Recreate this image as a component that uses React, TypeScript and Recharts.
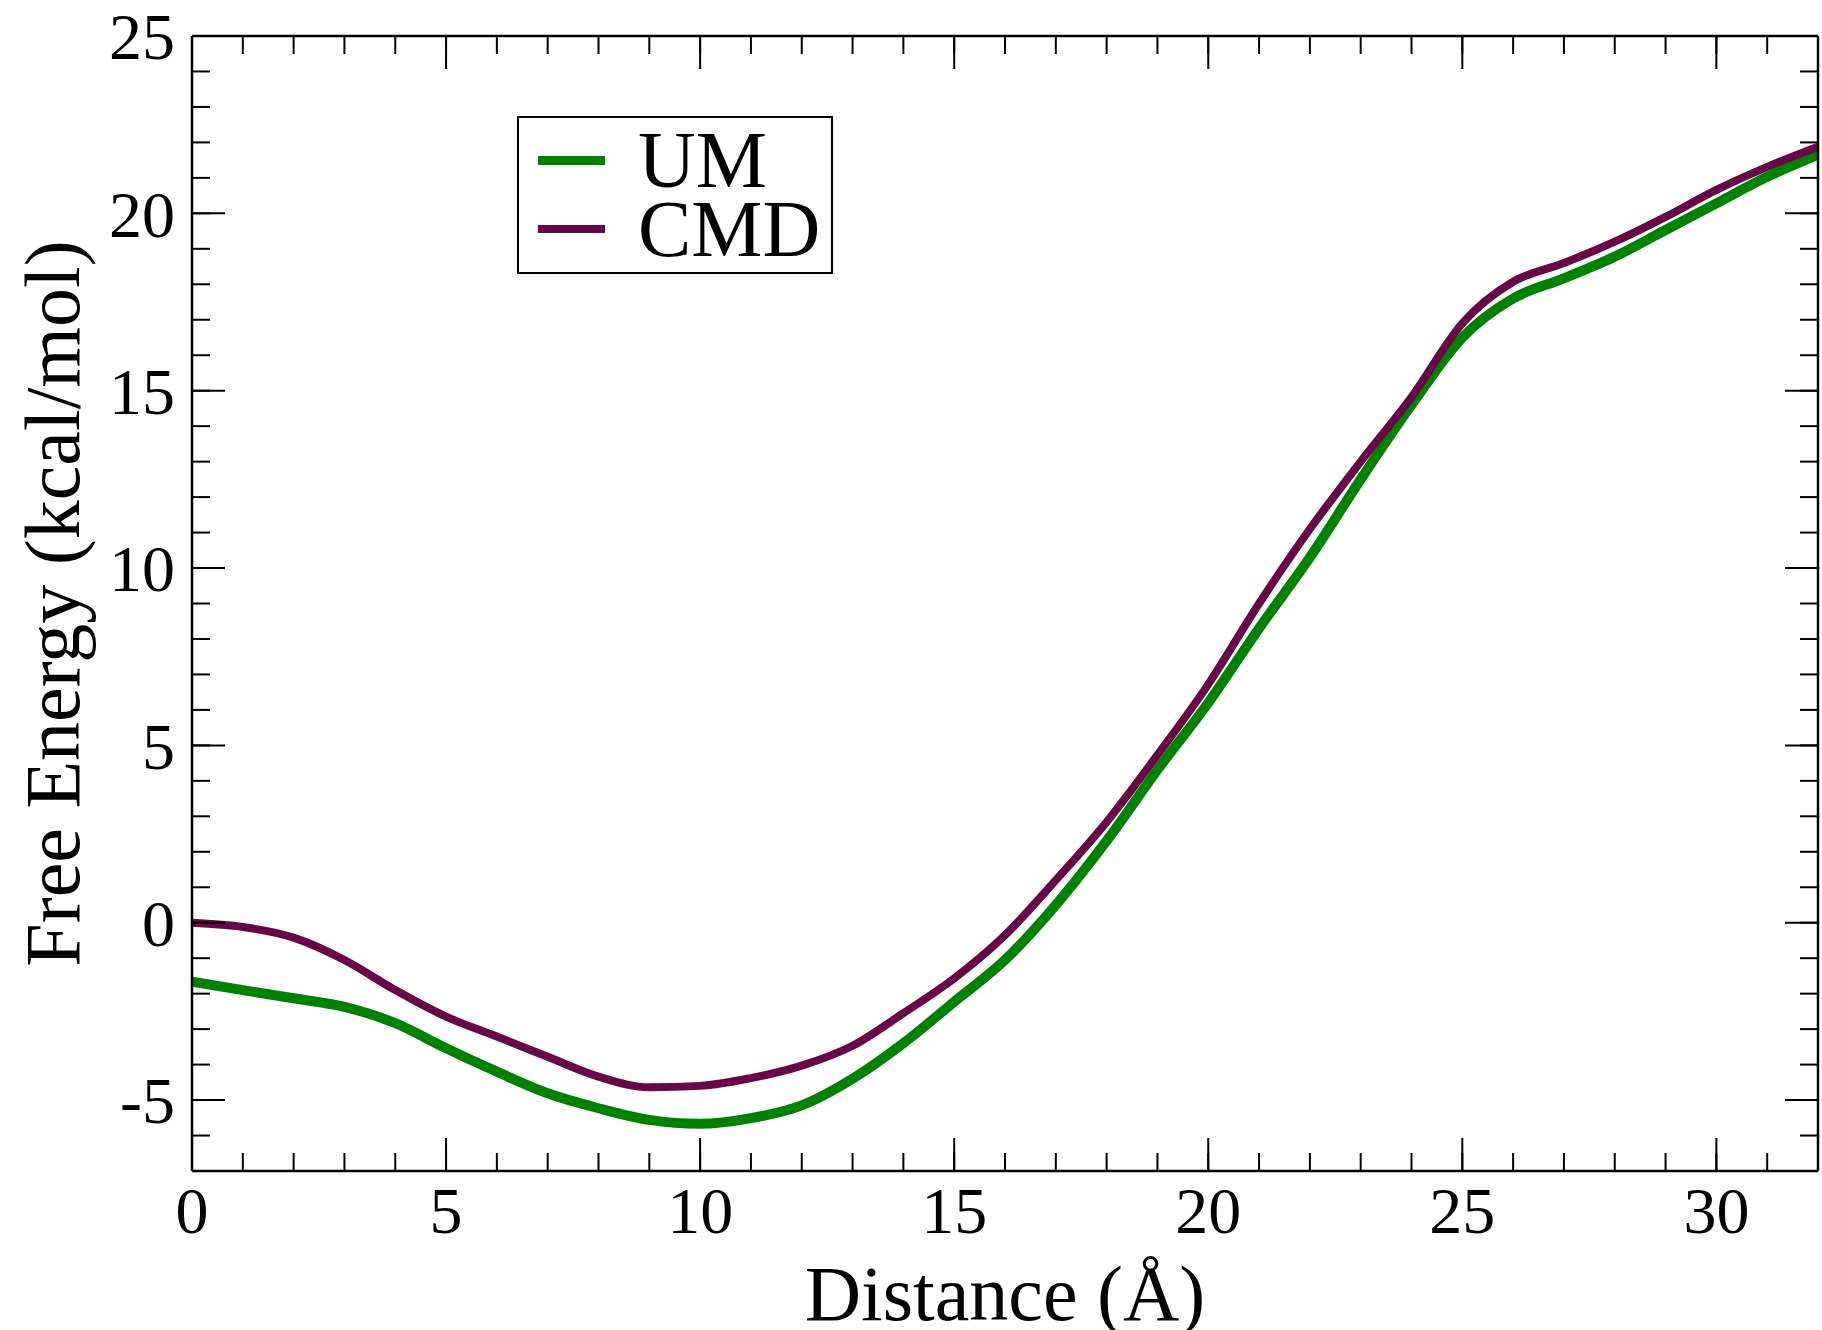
import { LineChart, Line, XAxis, YAxis, Legend } from "recharts";

// Free energy profiles (kcal/mol vs Å)
const distance = [
  0, 1, 2, 3, 4, 5, 6, 7, 8, 9, 10, 11, 12, 13, 14, 15, 16, 17, 18, 19, 20, 21,
  22, 23, 24, 25, 26, 27, 28, 29, 30, 31, 32,
];
const umEnergy = [
  -1.66, -1.9, -2.13, -2.37, -2.83, -3.54, -4.2, -4.81, -5.23, -5.56, -5.67,
  -5.51, -5.15, -4.4, -3.4, -2.23, -1.05, 0.5, 2.31, 4.31, 6.2, 8.3, 10.3, 12.5,
  14.6, 16.5, 17.6, 18.17, 18.78, 19.53, 20.28, 21.03, 21.65,
];
const cmdEnergy = [
  0.0, -0.12, -0.42, -1.05, -1.9, -2.65, -3.21, -3.78, -4.34, -4.64, -4.6,
  -4.38, -4.03, -3.47, -2.55, -1.57, -0.35, 1.2, 2.84, 4.73, 6.72, 9.0, 11.1,
  13.0, 14.82, 16.9, 18.07, 18.6, 19.2, 19.9, 20.66, 21.31, 21.88,
];

const xMajorTicks = [0, 5, 10, 15, 20, 25, 30];
const xMinorTicks = [
  0, 1, 2, 3, 4, 5, 6, 7, 8, 9, 10, 11, 12, 13, 14, 15, 16, 17, 18, 19, 20, 21,
  22, 23, 24, 25, 26, 27, 28, 29, 30, 31, 32,
];
const yMajorTicks = [-5, 0, 5, 10, 15, 20, 25];
const yMinorTicks = [
  -7, -6, -5, -4, -3, -2, -1, 0, 1, 2, 3, 4, 5, 6, 7, 8, 9, 10, 11, 12, 13, 14,
  15, 16, 17, 18, 19, 20, 21, 22, 23, 24, 25,
];
const legendOrder = ["UM", "CMD"];

const FONT = "'Liberation Serif', 'Times New Roman', serif";
const INK = "#000";
const X_DOMAIN: [number, number] = [0, 32];
const Y_DOMAIN: [number, number] = [-7, 25];

const noLabel = () => <g />;

function LegendBox({ payload }: any) {
  const items = [...(payload ?? [])].sort(
    (a, b) => legendOrder.indexOf(a.value) - legendOrder.indexOf(b.value)
  );
  return (
    <div
      style={{
        border: `2px solid ${INK}`,
        background: "#fff",
        width: 316,
        height: 158,
        paddingTop: 7.5,
        boxSizing: "border-box",
      }}
    >
      {items.map((entry: any) => (
        <div
          key={entry.value}
          style={{ display: "flex", alignItems: "center", height: 69 }}
        >
          <span
            style={{
              display: "inline-block",
              width: 67,
              height: entry.value === "UM" ? 9 : 8,
              background: entry.color,
              marginLeft: 19,
              marginRight: 33,
            }}
          />
          <span
            style={{
              fontFamily: FONT,
              fontSize: 80,
              lineHeight: "69px",
              color: INK,
            }}
          >
            {entry.value}
          </span>
        </div>
      ))}
    </div>
  );
}

export default function App() {
  const data = distance.map((d, i) => ({
    d,
    um: umEnergy[i],
    cmd: cmdEnergy[i],
  }));

  const tickFont = { fill: INK, fontSize: 66, fontFamily: FONT };
  const tickLine = { stroke: INK, strokeWidth: 2 };
  const frame = { stroke: INK, strokeWidth: 2.5 };

  // inward ticks (xmgrace style) come from mirrored axes, which take no margin
  const xTicks = (id: string, orientation: "top" | "bottom", ticks: number[], size: number, line: boolean) => (
    <XAxis
      key={id}
      xAxisId={id}
      orientation={orientation}
      mirror
      dataKey="d"
      type="number"
      domain={X_DOMAIN}
      allowDataOverflow
      ticks={ticks}
      interval={0}
      height={1}
      tickSize={size}
      axisLine={line ? frame : false}
      tickLine={tickLine}
      tick={noLabel}
    />
  );
  const yTicks = (id: string, orientation: "left" | "right", ticks: number[], size: number, line: boolean) => (
    <YAxis
      key={id}
      yAxisId={id}
      orientation={orientation}
      mirror
      type="number"
      domain={Y_DOMAIN}
      allowDataOverflow
      ticks={ticks}
      interval={0}
      width={1}
      tickSize={size}
      axisLine={line ? frame : false}
      tickLine={tickLine}
      tick={noLabel}
    />
  );

  return (
    <div
      style={{
        position: "absolute",
        left: 0,
        top: 0,
        width: 1822,
        height: 1330,
        background: "#fff",
      }}
    >
      <LineChart
        width={1822}
        height={1330}
        data={data}
        margin={{ top: 36, right: 4, bottom: 158, left: 191 }}
      >
        {/* bottom axis: line + labels */}
        <XAxis
          dataKey="d"
          type="number"
          domain={X_DOMAIN}
          allowDataOverflow
          ticks={xMajorTicks}
          interval={0}
          height={1}
          tickSize={0}
          tickMargin={15}
          axisLine={frame}
          tickLine={false}
          tick={tickFont}
          label={{
            value: "Distance (Å)",
            position: "bottom",
            offset: 93,
            fontSize: 78,
            fontFamily: FONT,
            fill: INK,
          }}
        />
        {/* left axis: line + labels */}
        <YAxis
          type="number"
          domain={Y_DOMAIN}
          allowDataOverflow
          ticks={yMajorTicks}
          interval={0}
          width={1}
          tickSize={0}
          tickMargin={17}
          axisLine={frame}
          tickLine={false}
          tick={tickFont}
          label={{
            content: ({ viewBox }: any) => {
              const cx = viewBox.x - 112;
              const cy = viewBox.y + viewBox.height / 2;
              return (
                <text
                  x={cx}
                  y={cy}
                  transform={`rotate(-90 ${cx} ${cy})`}
                  textAnchor="middle"
                  fontSize={78}
                  fontFamily={FONT}
                  fill={INK}
                >
                  Free Energy (kcal/mol)
                </text>
              );
            },
          }}
        />

        {xTicks("bMajor", "bottom", xMajorTicks, 33, false)}
        {xTicks("bMinor", "bottom", xMinorTicks, 17, false)}
        {xTicks("tMajor", "top", xMajorTicks, 33, true)}
        {xTicks("tMinor", "top", xMinorTicks, 17, false)}
        {yTicks("lMajor", "left", yMajorTicks, 33, false)}
        {yTicks("lMinor", "left", yMinorTicks, 17, false)}
        {yTicks("rMajor", "right", yMajorTicks, 33, true)}
        {yTicks("rMinor", "right", yMinorTicks, 17, false)}

        <Legend
          layout="horizontal"
          verticalAlign="middle"
          align="center"
          content={<LegendBox />}
          wrapperStyle={{ left: 517, top: 116, width: "auto", height: "auto" }}
        />

        <Line
          type="monotone"
          dataKey="um"
          name="UM"
          stroke="#008200"
          strokeWidth={10}
          dot={false}
          activeDot={false}
          isAnimationActive={false}
        />
        <Line
          type="monotone"
          dataKey="cmd"
          name="CMD"
          stroke="#670748"
          strokeWidth={8}
          dot={false}
          activeDot={false}
          isAnimationActive={false}
        />
      </LineChart>
    </div>
  );
}
